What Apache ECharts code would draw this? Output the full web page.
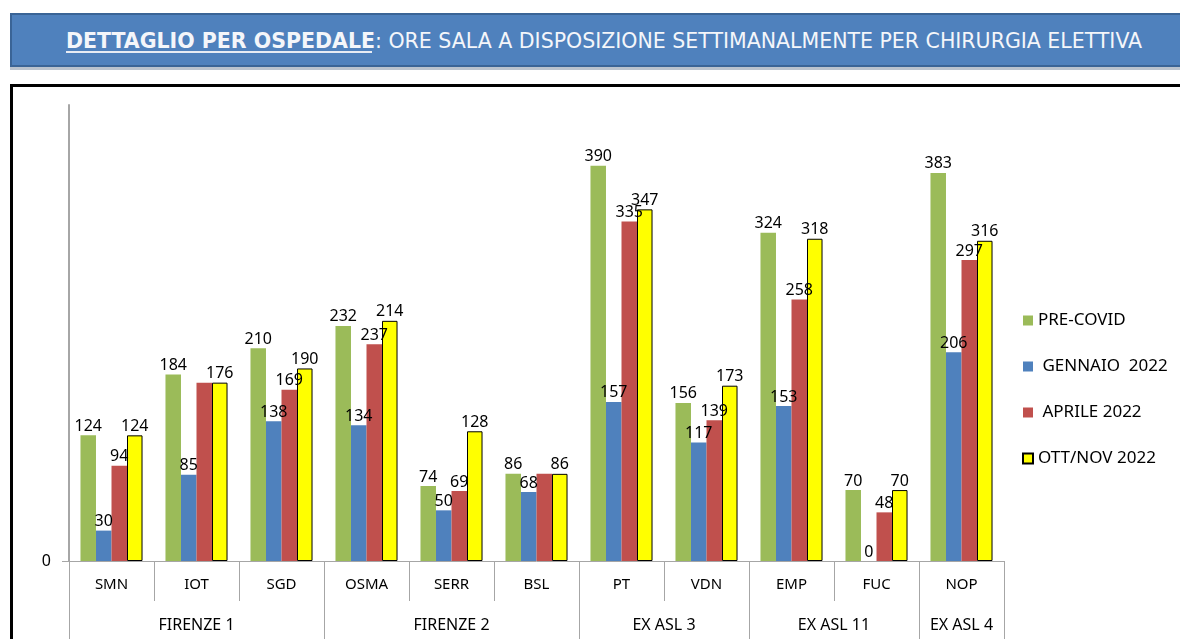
<!DOCTYPE html>
<html>
<head>
<meta charset="utf-8">
<script src="https://cdn.jsdelivr.net/npm/echarts@6/dist/echarts.min.js"></script>
<style>
  html, body { margin: 0; padding: 0; background: #fff; width: 1180px; height: 639px; overflow: hidden; }
  .banner { position: absolute; left: 10px; top: 13px; width: 1200px; height: 50px; background: #4F81BD;
            border: 2px solid #3A6496; box-shadow: 0 3px 0 #BAC3CE; }
  .banner svg { position: absolute; left: 0; top: 0; }
  .frame { position: absolute; left: 10px; top: 84px; width: 1200px; height: 600px; border: 3px solid #000; }
  #chart { position: absolute; left: 0; top: 0; width: 1180px; height: 639px; }
</style>
</head>
<body>
<div class="banner">
  <svg width="1200" height="50">
    <text x="54" y="33" textLength="1076" lengthAdjust="spacingAndGlyphs"
          font-family="DejaVu Sans Condensed" font-size="21" fill="#F4F6FA">
      <tspan font-weight="bold">DETTAGLIO PER OSPEDALE</tspan><tspan>: ORE SALA A DISPOSIZIONE SETTIMANALMENTE PER CHIRURGIA ELETTIVA</tspan>
    </text>
    <line x1="54" x2="360" y1="37" y2="37" stroke="#E8ECF4" stroke-width="2"/>
  </svg>
</div>
<div class="frame"></div>
<div id="chart"></div>
<script>
// ospedali e aree
const hospitals = ['SMN', 'IOT', 'SGD', 'OSMA', 'SERR', 'BSL', 'PT', 'VDN', 'EMP', 'FUC', 'NOP'];
const areas = ['FIRENZE 1', 'FIRENZE 2', 'EX ASL 3', 'EX ASL 11', 'EX ASL 4'];
const areaBounds = [0, 3, 6, 8, 10, 11];
const areaCenters = [1.5, 4.5, 7, 9, 10.5];

// ore sala (altezza barre) e etichette stampate
const preCovid = [124, 184, 210, 232, 74, 86, 390, 156, 324, 70, 383];
const gennaio = [30, 85, 138, 134, 50, 68, 157, 117, 153, 0, 206];
const aprile = [94, 176, 169, 214, 69, 86, 335, 139, 258, 48, 297];
const ottNov = [124, 176, 190, 237, 128, 86, 347, 173, 318, 70, 316];

const preCovidLbl = [124, 184, 210, 232, 74, 86, 390, 156, 324, 70, 383];
const gennaioLbl = [30, 85, 138, 134, 50, 68, 157, 117, 153, 0, 206];
const aprileLbl = [94, null, 169, 237, 69, null, 335, 139, 258, 48, 297];
const ottNovLbl = [124, 176, 190, 214, 128, 86, 347, 173, 318, 70, 316];

const FONT = 'Noto Sans';

function mkSeries(name, values, labels, color, border) {
  return {
    name,
    type: 'bar',
    barGap: 0,
    barCategoryGap: '27%',
    itemStyle: border ? { color, borderColor: '#000', borderWidth: 1 } : { color },
    label: {
      show: true, position: 'top', distance: 1,
      color: '#000', fontFamily: FONT, fontSize: 16,
      formatter: p => (labels[p.dataIndex] == null ? '' : String(labels[p.dataIndex])),
    },
    data: values,
  };
}

const chart = echarts.init(document.getElementById('chart'));
chart.setOption({
  animation: false,
  grid: { left: 69, right: 176, top: 105, bottom: 78 },
  legend: {
    orient: 'vertical', left: 1017, top: 307, itemGap: 29,
    itemWidth: 10, itemHeight: 10, icon: 'rect',
    textStyle: { color: '#000', fontFamily: FONT, fontSize: 17 },
    data: ['PRE-COVID', ' GENNAIO  2022', ' APRILE 2022', 'OTT/NOV 2022'],
  },
  xAxis: [
    {
      type: 'category', data: hospitals,
      axisLine: { lineStyle: { color: '#A6A6A6', width: 1 } },
      axisTick: { show: true, interval: 0, length: 40, lineStyle: { color: '#A6A6A6' } },
      axisLabel: { interval: 0, margin: 16, color: '#000', fontFamily: FONT, fontSize: 15 },
    },
    {
      type: 'value', min: 0, max: 11, position: 'bottom', offset: 40,
      axisLine: { show: false },
      splitLine: { show: false },
      axisTick: { show: true, customValues: areaBounds, length: 38, lineStyle: { color: '#A6A6A6' } },
      axisLabel: {
        customValues: areaCenters, margin: 16, color: '#000', fontFamily: FONT, fontSize: 16,
        formatter: v => areas[areaCenters.indexOf(v)] || '',
      },
    },
  ],
  yAxis: {
    type: 'value', min: 0, max: 450,
    axisLine: { show: true, lineStyle: { color: '#A6A6A6', width: 2 } },
    axisTick: { show: true, customValues: [0], length: 7, lineStyle: { color: '#A6A6A6' } },
    splitLine: { show: false },
    axisLabel: { customValues: [0], margin: 18, color: '#000', fontFamily: FONT, fontSize: 16 },
  },
  series: [
    mkSeries('PRE-COVID', preCovid, preCovidLbl, '#9BBB59'),
    mkSeries(' GENNAIO  2022', gennaio, gennaioLbl, '#4F81BD'),
    mkSeries(' APRILE 2022', aprile, aprileLbl, '#C0504D'),
    mkSeries('OTT/NOV 2022', ottNov, ottNovLbl, '#FFFF00', true),
  ],
});
</script>
</body>
</html>
